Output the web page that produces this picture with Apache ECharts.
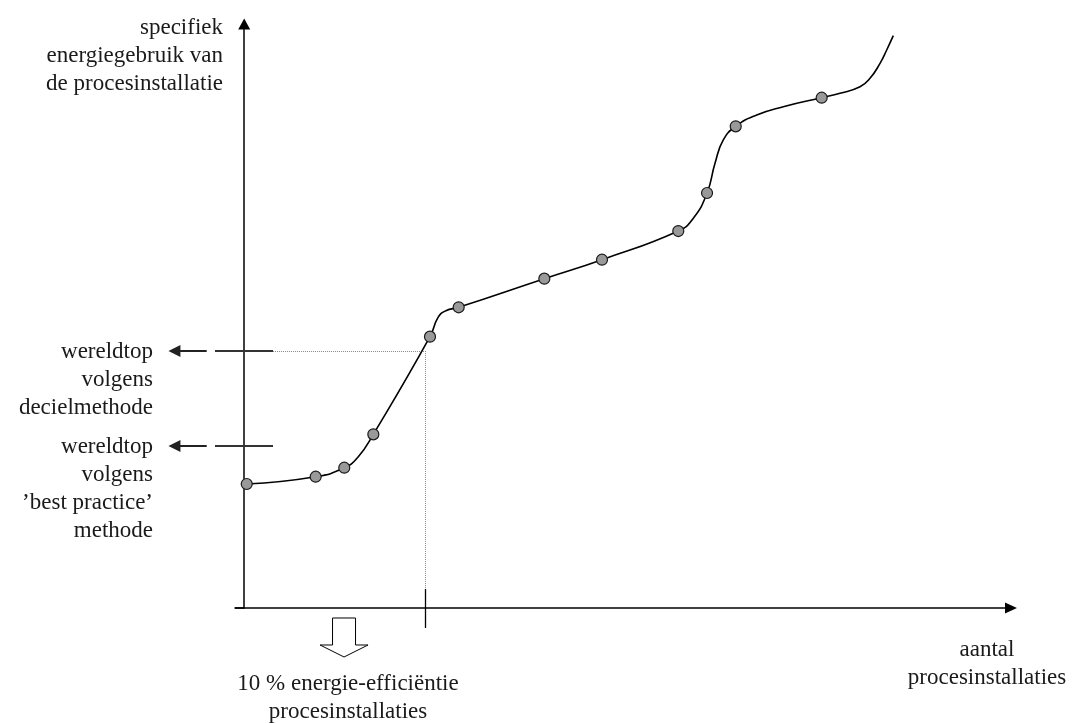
<!DOCTYPE html>
<html>
<head>
<meta charset="utf-8">
<script src="https://cdn.jsdelivr.net/npm/echarts@6/dist/echarts.min.js"></script>
<style>
html,body{margin:0;padding:0;background:#fff;}
#chart{width:1072px;height:723px;}
</style>
</head>
<body>
<div id="chart"></div>
<script>
// ---- data (abstract units: x = aantal procesinstallaties, y = specifiek energiegebruik) ----
// plotted installations (markers)
var pointX = [0.33, 9.32, 13.05, 16.84, 24.23, 27.97, 39.14, 46.66, 56.61, 60.36, 64.10, 75.31];
var pointY = [21.23, 22.48, 24.02, 29.74, 46.46, 51.49, 56.39, 59.64, 64.55, 71.06, 82.48, 87.38];
// hand-drawn curve through the installations
var curveX = [0.33, 9.32, 13.05, 14.88, 16.84, 24.23, 25.30, 26.30, 27.97, 39.14, 46.66, 56.61, 58.57, 60.36, 61.40, 62.48, 64.10, 66.84, 70.31, 75.31, 77.70, 80.31, 81.61, 82.92, 83.79, 84.65];
var curveY = [21.23, 22.48, 24.02, 25.91, 29.74, 46.46, 49.80, 50.90, 51.49, 56.39, 59.64, 64.55, 66.73, 71.06, 76.15, 80.14, 82.48, 84.42, 85.84, 87.38, 88.13, 89.26, 90.70, 93.27, 95.55, 98.00];
// reference levels
var decielX = 23.58;        // 10 % of installations
var decielY = 44.01;        // wereldtop volgens decielmethode
var bestPracticeY = 27.74;  // wereldtop volgens 'best practice' methode

// texts
var yAxisTitle = ['specifiek', 'energiegebruik van', 'de procesinstallatie'];
var xAxisTitle = ['aantal', 'procesinstallaties'];
var decielLabel = ['wereldtop', 'volgens', 'decielmethode'];
var bestPracticeLabel = ['wereldtop', 'volgens', '\u2019best practice\u2019', 'methode'];
var bottomLabel = ['10 % energie-effici\u00ebntie', 'procesinstallaties'];

// ---- build ----
var FONT = '23px "Liberation Serif", "Times New Roman", serif';
var TXT = '#1a1a1a';
function zip(a, b) { return a.map(function (v, i) { return [v, b[i]]; }); }

var chart = echarts.init(document.getElementById('chart'), null, { renderer: 'canvas' });

function textEl(lines, x, y, align) {
  return {
    type: 'text', x: x, y: y, silent: true,
    style: {
      text: lines.join('\n'), font: FONT, fill: TXT,
      align: align, verticalAlign: 'middle',
      textAlign: align, textVerticalAlign: 'middle',
      lineHeight: 28
    }
  };
}

var arrowLineStyle = { color: '#333', width: 2, type: 'solid', opacity: 1 };

var option = {
  backgroundColor: '#ffffff',
  animation: false,
  grid: { left: 235, right: 61, top: 24, bottom: 115, containLabel: false },
  xAxis: {
    type: 'value', min: -1.2, max: 100,
    axisLine: { show: true, onZero: true, symbol: ['none', 'triangle'], symbolSize: [11, 12],
      lineStyle: { color: '#000', width: 1.5 } },
    axisTick: { show: false }, axisLabel: { show: false }, splitLine: { show: false }
  },
  yAxis: {
    type: 'value', min: 0, max: 100,
    axisLine: { show: true, onZero: true, symbol: ['none', 'triangle'], symbolSize: [12, 11],
      lineStyle: { color: '#000', width: 1.5 } },
    axisTick: { show: false }, axisLabel: { show: false }, splitLine: { show: false }
  },
  series: [
    {
      type: 'lines', coordinateSystem: 'cartesian2d', clip: false, silent: true,
      z: 1,
      data: [
        // x-axis extension left of origin
        { coords: [[-1.2, 0], [0, 0]], lineStyle: { color: '#000', width: 1.5, opacity: 1 } },
        // dotted guide lines
        { coords: [[3.76, decielY], [decielX, decielY]], lineStyle: { color: '#8a8a8a', width: 1, type: 'dotted', opacity: 1 } },
        { coords: [[decielX, decielY], [decielX, 3.25]], lineStyle: { color: '#8a8a8a', width: 1, type: 'dotted', opacity: 1 } },
        // tick at 10 %
        { coords: [[decielX, 3.25], [decielX, -3.42]], lineStyle: { color: '#000', width: 1.3, opacity: 1 } },
        // solid stubs crossing the y-axis
        { coords: [[-3.81, decielY], [3.76, decielY]], lineStyle: arrowLineStyle },
        { coords: [[-3.81, bestPracticeY], [3.76, bestPracticeY]], lineStyle: arrowLineStyle }
      ],
      lineStyle: { curveness: 0, opacity: 1 }
    },
    {
      type: 'lines', coordinateSystem: 'cartesian2d', clip: false, silent: true,
      symbol: ['none', 'triangle'], symbolSize: 12, z: 2,
      data: [
        { coords: [[-4.89, decielY], [-9.10, decielY]] },
        { coords: [[-4.89, bestPracticeY], [-9.10, bestPracticeY]] }
      ],
      lineStyle: { color: '#222', width: 2, curveness: 0, opacity: 1 },
      itemStyle: { color: '#000', opacity: 1 }
    },
    {
      type: 'line', data: zip(curveX, curveY), smooth: 0.5, showSymbol: false,
      lineStyle: { color: '#000', width: 1.6 }, z: 3, silent: true, clip: false
    },
    {
      type: 'scatter', data: zip(pointX, pointY), symbol: 'circle', symbolSize: 11,
      itemStyle: { color: '#999999', borderColor: '#1a1a1a', borderWidth: 1.2, opacity: 1 }, z: 4, silent: true
    },
    {
      // hollow down arrow below the 10 % range
      type: 'custom', coordinateSystem: 'cartesian2d', clip: false, silent: true, z: 2,
      data: [[13.02, -1.71]],
      renderItem: function (params, api) {
        var p = api.coord([api.value(0), api.value(1)]);
        var x = p[0], y = p[1];
        return {
          type: 'polygon',
          shape: { points: [[x - 11.5, y], [x + 11.5, y], [x + 11.5, y + 27], [x + 24, y + 27], [x, y + 39], [x - 24, y + 27], [x - 11.5, y + 27]] },
          style: { fill: '#fff', stroke: '#000', lineWidth: 1 }
        };
      }
    }
  ],
  graphic: [
    textEl(yAxisTitle, 223, 56, 'right'),
    textEl(decielLabel, 153, 380, 'right'),
    textEl(bestPracticeLabel, 153, 489, 'right'),
    textEl(bottomLabel, 348, 698, 'center'),
    textEl(xAxisTitle, 987, 664, 'center')
  ]
};
chart.setOption(option);
</script>
</body>
</html>
